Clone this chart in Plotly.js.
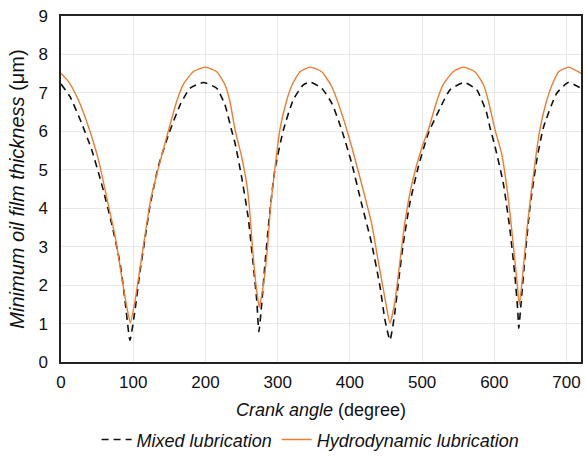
<!DOCTYPE html>
<html>
<head>
<meta charset="utf-8">
<script src="https://cdn.plot.ly/plotly-3.0.1.min.js"></script>
<style>html,body{margin:0;padding:0;background:#fff;}#chart{width:586px;height:456px;}</style>
</head>
<body>
<div id="chart"></div>
<script>
// Crank angle (degree) and minimum oil film thickness (μm)
const hydroAngle = [0,12,26,38,52,65,75,84,91,96,102,109,116,125,139,149,160,169,183,199.5,215.6,227,234,241,250,257,261,265,270,274.5,277,281,286,290,296,303,312,320,331,345,361,375,388.6,402.5,416,430,439,449,455.5,462,469,476,486,500,508.6,520,529,543,557,573,585,592,601,610,619,626,632,634.6,639,645,652,663,672,680,689,703,716,720];
const hydroThickness = [7.51,7.25,6.73,6.12,5.25,4.13,3.26,2.22,1.44,1.02,1.53,2.39,3.26,4.30,5.34,6.04,6.77,7.21,7.55,7.67,7.55,7.21,6.77,6.04,5.35,4.65,4.0,3.0,2.0,1.42,1.65,2.1,3.0,4.0,5.0,6.04,6.77,7.21,7.55,7.67,7.55,7.16,6.47,5.60,4.65,3.61,2.65,1.61,1.01,1.53,2.57,3.61,4.65,5.60,6.04,6.77,7.21,7.55,7.67,7.55,7.21,6.77,6.04,5.43,4.30,3.09,1.96,1.48,2.22,3.43,4.56,6.04,6.77,7.21,7.55,7.67,7.55,7.51];

const mixedAngle = [0,12.5,28.6,42.5,56,70,81.7,88.6,95.5,102.5,109,116,123,134.7,148.6,165,178.6,197,215.6,227,236,241,250,259,266,271,274,278,282.5,288.5,296,308,321.6,335.5,345,361,375,388.6,402.5,416,430,441.7,448.6,455.5,461.5,467,474,483,494.8,508.6,524.8,538.6,558,575.6,589,594,601,612.4,621.7,628.6,632.4,633.8,637,642.5,649.4,658.7,668,686.4,702.5,720];
const mixedThickness = [7.23,6.90,6.21,5.52,4.65,3.61,2.57,1.61,0.57,1.35,2.31,3.17,4.04,5.08,5.90,6.69,7.12,7.27,7.12,6.69,6.04,5.69,4.82,3.78,2.57,1.61,0.79,1.53,2.57,3.78,4.99,6.04,6.82,7.21,7.28,7.12,6.73,6.04,5.17,4.13,3.09,1.96,1.09,0.57,1.18,2.05,3.09,4.13,5.08,5.95,6.60,7.08,7.27,7.08,6.5,6.1,5.6,4.65,3.43,2.22,1.35,0.88,1.53,2.74,4.04,5.25,6.10,6.99,7.27,7.12];

const seriesNames = ["<i>Mixed lubrication</i>", "<i>Hydrodynamic lubrication</i>"];
const xTitle = "<i>Crank angle</i> (degree)";
const yTitle = "<i>Minimum oil film thickness</i> (μm)";

const traces = [
  {x: mixedAngle, y: mixedThickness, name: seriesNames[0], mode: "lines",
   line: {color: "#111111", width: 1.6, dash: "7px,5px", shape: "spline", smoothing: 0.5}},
  {x: hydroAngle, y: hydroThickness, name: seriesNames[1], mode: "lines",
   line: {color: "#ED7D31", width: 1.4, shape: "spline", smoothing: 0.5}}
];

const layout = {
  width: 586, height: 456,
  margin: {l: 61, r: 5, t: 16, b: 94, autoexpand: false},
  paper_bgcolor: "#fff", plot_bgcolor: "#fff",
  font: {family: "Liberation Sans, Arial, sans-serif", color: "#111", size: 16},
  showlegend: true,
  legend: {orientation: "h", x: 0.48, xanchor: "center", y: -0.225, yanchor: "middle",
           font: {size: 18, color: "#111"}, itemwidth: 30, tracegroupgap: 0},
  xaxis: {range: [0, 720], dtick: 100, tick0: 0, showgrid: true, gridcolor: "#e8e8e8", gridwidth: 1,
          zeroline: false, showline: true, linecolor: "#222", linewidth: 1.6, mirror: true,
          ticks: "", tickfont: {size: 17}, ticklabelstandoff: 4, automargin: false,
          title: {text: xTitle, font: {size: 18}, standoff: 12}},
  yaxis: {range: [0, 9], dtick: 1, tick0: 0, showgrid: true, gridcolor: "#e8e8e8", gridwidth: 1,
          zeroline: false, showline: true, linecolor: "#222", linewidth: 1.6, mirror: true,
          ticks: "", tickfont: {size: 17}, ticklabelstandoff: 8, automargin: false,
          title: {text: yTitle, font: {size: 20}, standoff: 8}}
};

Plotly.newPlot("chart", traces, layout, {displayModeBar: false, staticPlot: true});
</script>
</body>
</html>
